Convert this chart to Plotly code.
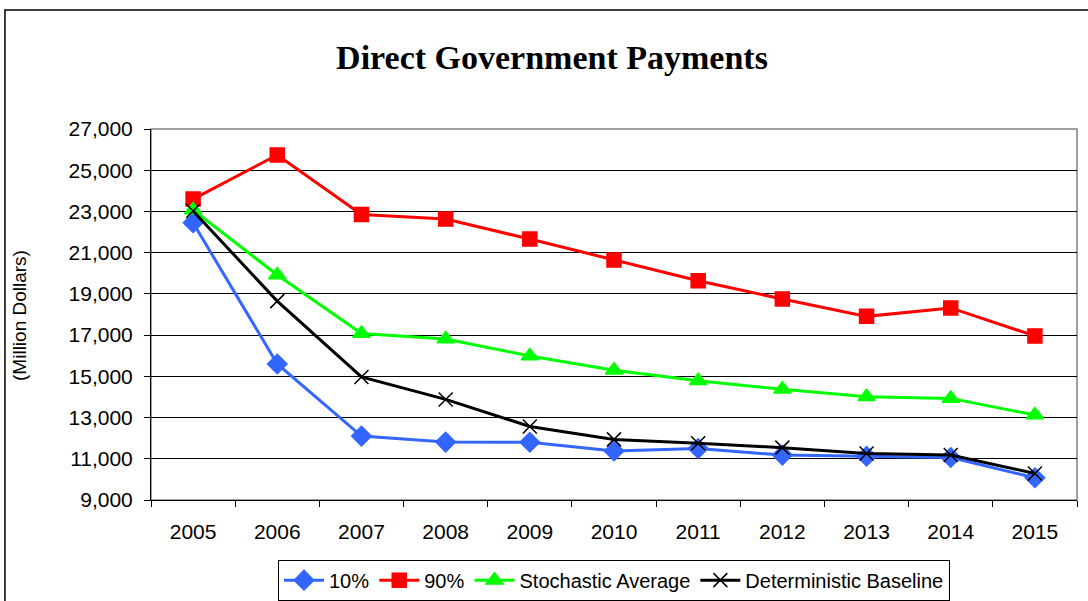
import plotly.graph_objects as go

# Data (million dollars)
years = ['2005', '2006', '2007', '2008', '2009', '2010', '2011', '2012', '2013', '2014', '2015']
p10 = [22450, 15600, 12100, 11810, 11800, 11380, 11500, 11180, 11120, 11060, 10080]
p90 = [23600, 25740, 22850, 22630, 21660, 20640, 19640, 18750, 17910, 18320, 16960]
stoch_avg = [23070, 19920, 17080, 16810, 15990, 15300, 14790, 14370, 14010, 13930, 13120]
det_base = [23020, 18650, 14970, 13880, 12570, 11940, 11750, 11540, 11260, 11180, 10290]
y_ticks = [9000, 11000, 13000, 15000, 17000, 19000, 21000, 23000, 25000, 27000]

FONT = 'Liberation Sans, Arial, sans-serif'

fig = go.Figure()

# Series: name, values, colour, marker symbol, marker size
series = [
    ('10%', p10, '#3366FF', 'diamond', 15),
    ('90%', p90, '#FF0000', 'square', 14),
    ('Stochastic Average', stoch_avg, '#00FF00', 'triangle-up', 15),
    ('Deterministic Baseline', det_base, '#000000', 'x-thin-open', 14),
]
for name, vals, col, sym, size in series:
    fig.add_trace(go.Scatter(
        x=years, y=vals, name=name, mode='lines+markers',
        line=dict(color=col, width=3),
        marker=dict(symbol=sym, size=size, color=col, line=dict(color=col, width=1.5)),
    ))

fig.update_layout(
    width=1088, height=601,
    margin=dict(l=151, r=11, t=129, b=101, autoexpand=False),
    paper_bgcolor='white', plot_bgcolor='white',
    font=dict(family=FONT, size=21, color='black'),
    title=dict(text='<b>Direct Government Payments</b>',
               font=dict(family='Liberation Serif, Times New Roman, serif', size=34, color='black'),
               x=552 / 1088, xanchor='center', y=1 - 57 / 601, yanchor='middle'),
    showlegend=True,
    legend=dict(orientation='h', x=0.5, xanchor='center', y=-0.216, yanchor='middle',
                bordercolor='black', borderwidth=1, bgcolor='white',
                font=dict(family=FONT, size=20), itemwidth=40, tracegroupgap=0),
    xaxis=dict(type='category', range=[-0.5, len(years) - 0.5],
               showgrid=False, showline=True, linecolor='black', linewidth=1,
               ticks='outside', tickson='boundaries', ticklen=6, tickcolor='black',
               ticklabelstandoff=13, tickfont=dict(family=FONT, size=21)),
    yaxis=dict(range=[9000, 27000], tickvals=y_ticks, tickformat=',d',
               showgrid=True, gridcolor='black', gridwidth=1,
               showline=True, linecolor='black', linewidth=1,
               ticks='outside', ticklen=6, tickcolor='black', zeroline=False,
               ticklabelstandoff=7, tickfont=dict(family=FONT, size=21)),
    annotations=[dict(text='(Million Dollars)', textangle=-90, xref='paper', yref='paper',
                      x=-0.1415, y=0.4987, xanchor='center', yanchor='middle', showarrow=False,
                      font=dict(family=FONT, size=19, color='black'))],
    shapes=[
        # gray outline of the plot area (top and right)
        dict(type='rect', xref='paper', yref='paper', x0=0, x1=1, y0=0, y1=1,
             line=dict(color='#808080', width=1.5), layer='below'),
        # outer chart frame
        dict(type='rect', xref='paper', yref='paper', x0=-0.1577, x1=1.02, y0=-0.29, y1=1.3208,
             line=dict(color='black', width=1.5), layer='below'),
    ],
)

# drop the default page margin so the figure sits at the window's top-left corner
fig.write_html('out.html', config={'displayModeBar': False},
               post_script="document.body.style.margin='0';")
